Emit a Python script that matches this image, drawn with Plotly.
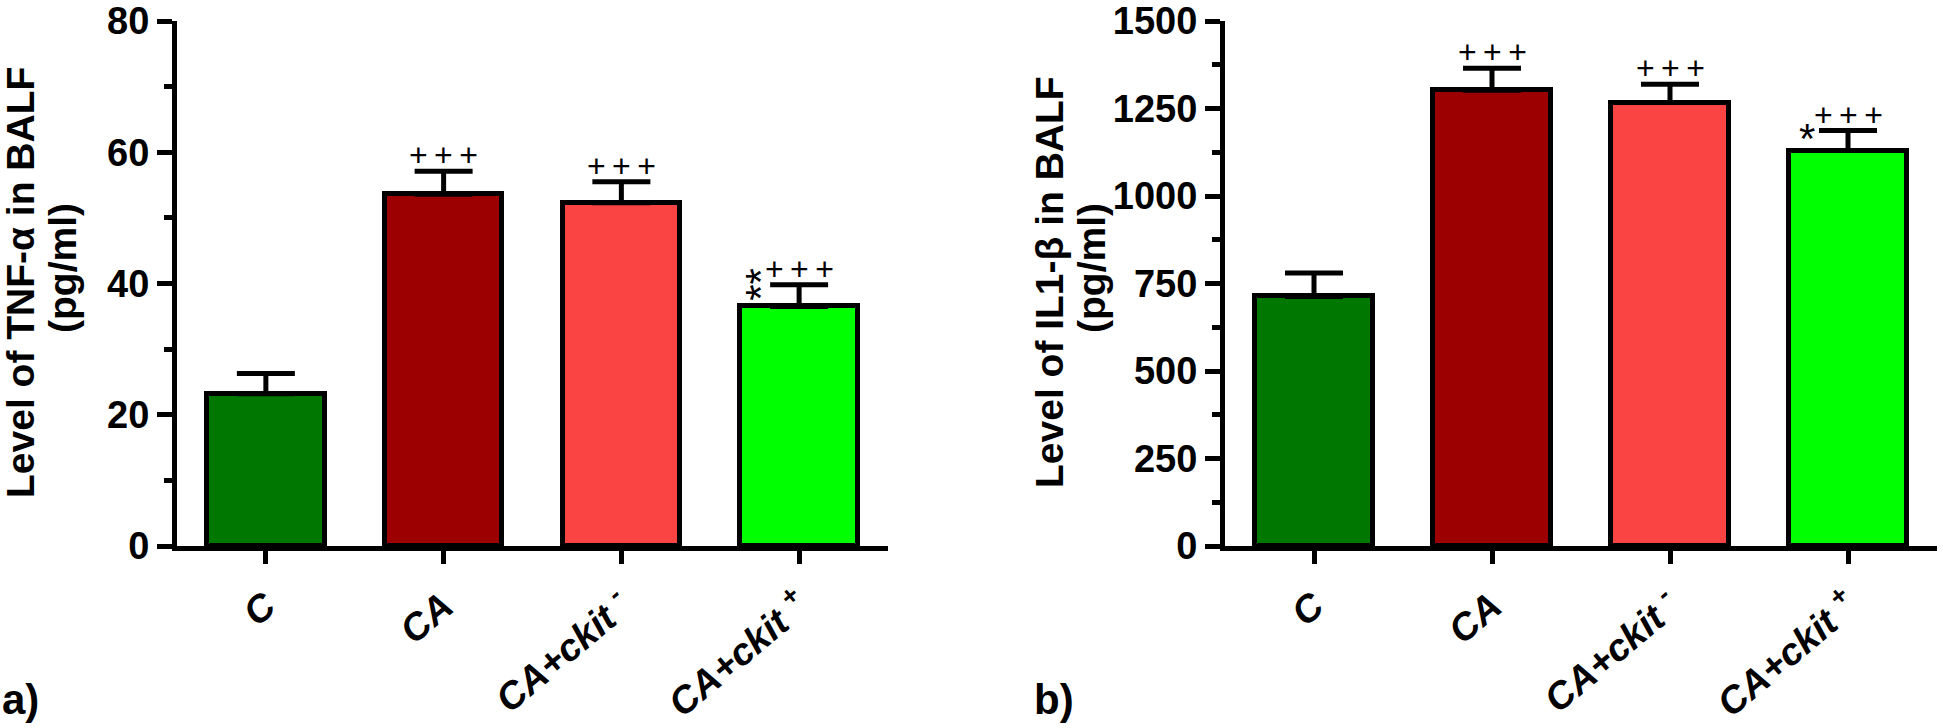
import plotly.graph_objects as go

# ---------------- data ----------------
categories = ["C", "CA", "CA+ckit-", "CA+ckit+"]
tick_labels = ["C", "CA", "CA+ckit <sup>-</sup>", "CA+ckit <sup>+</sup>"]
bar_colors = ["#007800", "#9C0000", "#FA4343", "#00FF00"]

tnf_mean = [23.2, 53.6, 52.3, 36.5]
tnf_sem = [3.1, 3.5, 3.2, 3.3]
tnf_plus = ["", "+++", "+++", "+++"]
tnf_star = ["", "", "", "**"]

il1_mean = [713, 1302, 1267, 1130]
il1_sem = [67, 63, 52, 57]
il1_plus = ["", "+++", "+++", "+++"]
il1_star = ["", "", "", "*"]

y_titles_a = ["Level of TNF-\u03b1 in BALF", "(pg/ml)"]
y_titles_b = ["Level of IL1-\u03b2 in BALF", "(pg/ml)"]

# ---------------- figure ----------------
W, H = 1943, 728
FONT = "Liberation Sans, Arial, Helvetica, sans-serif"
xs = list(range(len(categories)))

fig = go.Figure()

def add_bars(mean, sem, xa, ya):
    fig.add_trace(go.Bar(
        x=xs, y=mean, width=0.66,
        marker=dict(color=bar_colors, line=dict(color="black", width=5)),
        error_y=dict(type="data", symmetric=False, array=sem,
                     arrayminus=[0] * len(sem), thickness=5, width=29,
                     color="black"),
        xaxis=xa, yaxis=ya, showlegend=False, hoverinfo="skip",
    ))

add_bars(tnf_mean, tnf_sem, "x", "y")
add_bars(il1_mean, il1_sem, "x2", "y2")

def px_x(p):
    return p / W

def px_y(p):
    return 1 - p / H

ydom = [px_y(546), px_y(21)]

xaxis_common = dict(
    range=[-0.5, 3.5], tickvals=xs, ticktext=["<i>%s</i>" % t for t in tick_labels],
    showline=True, linewidth=5, linecolor="black",
    ticks="outside", ticklen=13, tickwidth=5, tickcolor="black",
    tickangle=-40, tickfont=dict(family=FONT, size=38, color="black", weight="bold"),
    ticklabelstandoff=5, ticklabeloverflow="allow",
    showgrid=False, zeroline=False, fixedrange=True, automargin=False,
)
yaxis_common = dict(
    showline=True, linewidth=5, linecolor="black",
    ticks="outside", ticklen=15, tickwidth=5, tickcolor="black",
    tickfont=dict(family=FONT, size=38, color="black", weight="bold"),
    ticklabeloverflow="allow",
    showgrid=False, zeroline=False, fixedrange=True, domain=ydom, automargin=False,
)

fig.update_layout(
    width=W, height=H,
    margin=dict(l=0, r=0, t=0, b=0, autoexpand=False),
    paper_bgcolor="white", plot_bgcolor="white",
    showlegend=False, bargap=0,
    xaxis=dict(domain=[px_x(177), px_x(888)], anchor="y", **xaxis_common),
    yaxis=dict(range=[0, 80], dtick=20, anchor="x",
               minor=dict(dtick=10, ticks="outside", ticklen=8, tickwidth=5,
                          tickcolor="black", showgrid=False),
               **yaxis_common),
    xaxis2=dict(domain=[px_x(1225), px_x(1937)], anchor="y2", **xaxis_common),
    yaxis2=dict(range=[0, 1500], dtick=250, anchor="x2",
                minor=dict(dtick=125, ticks="outside", ticklen=8, tickwidth=5,
                           tickcolor="black", showgrid=False),
                **yaxis_common),
)

ann = []

def add_marks(mean, sem, plus, star, xr, yr):
    for i in xs:
        top = mean[i] + sem[i]
        if plus[i]:
            ann.append(dict(x=i, y=top, xref=xr, yref=yr, text="\u2009".join(plus[i]),
                            showarrow=False, yanchor="middle", yshift=16,
                            font=dict(family=FONT, size=32, color="black")))
        if star[i]:
            rot = -90 if len(star[i]) > 1 else 0
            ann.append(dict(x=i - 0.265, y=top, xref=xr, yref=yr, text=star[i],
                            showarrow=False, yanchor="middle", xanchor="center",
                            textangle=rot, xshift=9 if rot else 6,
                            yshift=0 if rot else -8,
                            font=dict(family=FONT, size=42, color="black")))

add_marks(tnf_mean, tnf_sem, tnf_plus, tnf_star, "x", "y")
add_marks(il1_mean, il1_sem, il1_plus, il1_star, "x2", "y2")

def add_ytitle(lines, x1, x2, yc1, yc2):
    for t, xp, yc in ((lines[0], x1, yc1), (lines[1], x2, yc2)):
        ann.append(dict(x=px_x(xp), y=px_y(yc), xref="paper", yref="paper", text=t,
                        showarrow=False, textangle=-90, xanchor="center", yanchor="middle",
                        font=dict(family=FONT, size=39, color="black", weight="bold")))

add_ytitle(y_titles_a, 21, 62, 283, 268)
add_ytitle(y_titles_b, 1050, 1091, 282, 268)

for lab, xp in (("a)", 0), ("b)", 1032)):
    ann.append(dict(x=px_x(xp), y=0.004, xref="paper", yref="paper", text=lab,
                    showarrow=False, xanchor="left", yanchor="bottom",
                    font=dict(family=FONT, size=42, color="black", weight="bold")))

fig.update_layout(annotations=ann)
fig.write_html(
    "out.html",
    config={"displayModeBar": False},
    post_script="document.body.style.margin='0';document.body.style.overflow='hidden';",
)
